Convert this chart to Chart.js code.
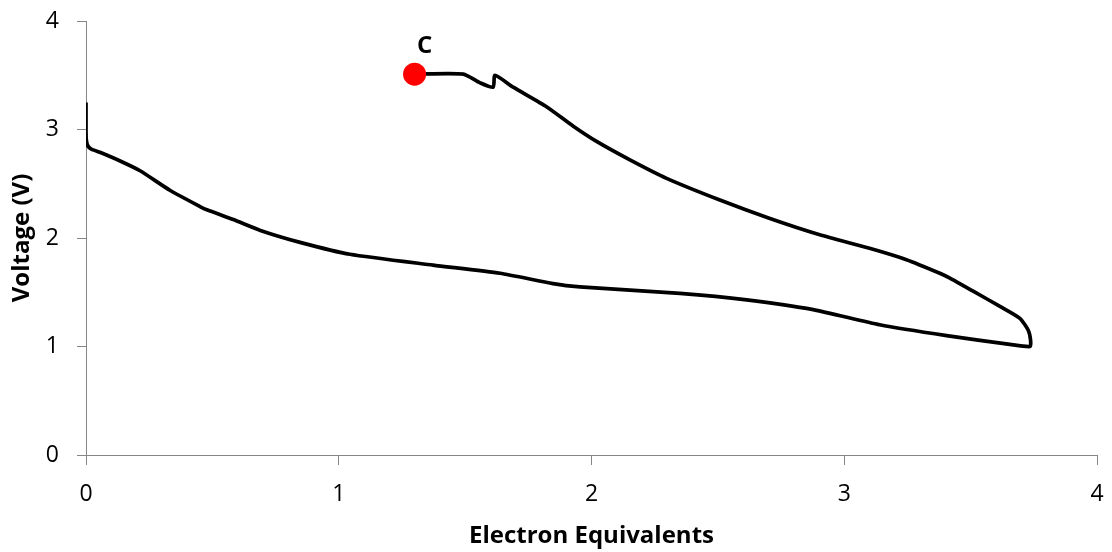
<!DOCTYPE html>
<html>
<head>
<meta charset="utf-8">
<script src="https://cdn.jsdelivr.net/npm/chart.js@4.4.0/dist/chart.umd.min.js"></script>
<style>
  body { margin: 0; background: #fff; }
  #wrap { width: 1112px; height: 552px; }
</style>
</head>
<body>
<div id="wrap"><canvas id="voltchart" width="1112" height="552"></canvas></div>
<script>
// discharge then charge curve
const electronEq = [
  0.000, 0.000, 0.005, 0.020, 0.055, 0.135, 0.214, 0.332, 0.451, 0.478,
  0.583, 0.690, 0.847, 1.044, 1.373, 1.638, 1.848, 1.954, 2.350, 2.614,
  2.877, 3.140, 3.405, 3.655, 3.735,
  3.737, 3.728, 3.695, 3.616, 3.510, 3.418, 3.378, 3.246, 3.100, 2.903,
  2.706, 2.508, 2.297, 2.152, 2.020, 1.928, 1.822, 1.690, 1.618, 1.611,
  1.559, 1.493, 1.300
];
const voltage = [
  3.25, 2.95, 2.86, 2.82, 2.79, 2.71, 2.62, 2.44, 2.29, 2.26,
  2.17, 2.07, 1.96, 1.85, 1.75, 1.675, 1.58, 1.55, 1.49, 1.43,
  1.34, 1.20, 1.10, 1.02, 1.00,
  1.06, 1.15, 1.26, 1.37, 1.51, 1.63, 1.675, 1.80, 1.905, 2.03,
  2.18, 2.35, 2.55, 2.72, 2.89, 3.03, 3.21, 3.39, 3.50, 3.39,
  3.43, 3.51, 3.51
];

const markerX = [1.30];
const markerY = [3.51];
const markerLabels = ['C'];

const xTicks = [0, 1, 2, 3, 4];
const yTicks = [0, 1, 2, 3, 4];

const curve = electronEq.map((x, i) => ({ x: x, y: voltage[i] }));
const markers = markerX.map((x, i) => ({ x: x, y: markerY[i] }));

const axisGrey = '#868686';

// writes the letter above each marker
const markerText = {
  id: 'markerText',
  afterDatasetsDraw(chart) {
    const c = chart.ctx;
    const xs = chart.scales.x, ys = chart.scales.y;
    c.save();
    c.font = 'bold 24px "Open Sans"';
    c.fillStyle = '#000';
    c.textAlign = 'center';
    c.textBaseline = 'middle';
    markers.forEach((m, i) => {
      c.fillText(markerLabels[i], xs.getPixelForValue(m.x) + 10, ys.getPixelForValue(m.y) - 28);
    });
    c.restore();
  }
};

const ctx = document.getElementById('voltchart');

new Chart(ctx, {
  type: 'scatter',
  data: {
    datasets: [{
      label: 'Voltage',
      data: curve,
      showLine: true,
      borderColor: '#000',
      borderWidth: 3.7,
      pointRadius: 0,
      tension: 0.2,
      order: 2
    }, {
      label: 'C',
      data: markers,
      pointRadius: 11.5,
      pointBackgroundColor: '#ff0000',
      pointBorderWidth: 0,
      order: 1
    }]
  },
  options: {
    responsive: false,
    animation: false,
    layout: { padding: { top: 21, right: 15, left: 0, bottom: 0 } },
    plugins: {
      legend: { display: false },
      tooltip: { enabled: false }
    },
    scales: {
      x: {
        type: 'linear',
        min: 0,
        max: 4,
        afterBuildTicks: s => { s.ticks = xTicks.map(v => ({ value: v })); },
        afterFit: s => { s.height = 97; s.paddingLeft = 0; s.paddingRight = 0; },
        grid: { drawOnChartArea: false, drawTicks: true, tickLength: 10, color: axisGrey },
        border: { color: axisGrey },
        ticks: { color: '#000', padding: 16, font: { family: 'Open Sans', size: 23 } },
        title: {
          display: true,
          text: 'Electron Equivalents',
          color: '#000',
          font: { family: 'Open Sans', size: 24, weight: 'bold' },
          padding: { top: 0, bottom: 1 }
        }
      },
      y: {
        type: 'linear',
        min: 0,
        max: 4,
        afterBuildTicks: s => { s.ticks = yTicks.map(v => ({ value: v })); },
        afterFit: s => { s.width = 86; s.paddingTop = 0; s.paddingBottom = 0; },
        grid: { drawOnChartArea: false, drawTicks: true, tickLength: 9, color: axisGrey },
        border: { color: axisGrey },
        ticks: { color: '#000', padding: 18, font: { family: 'Open Sans', size: 23 } },
        title: {
          display: true,
          text: 'Voltage (V)',
          color: '#000',
          font: { family: 'Open Sans', size: 24, weight: 'bold' },
          padding: { top: 8, bottom: 0 }
        }
      }
    }
  },
  plugins: [markerText]
});
</script>
</body>
</html>
